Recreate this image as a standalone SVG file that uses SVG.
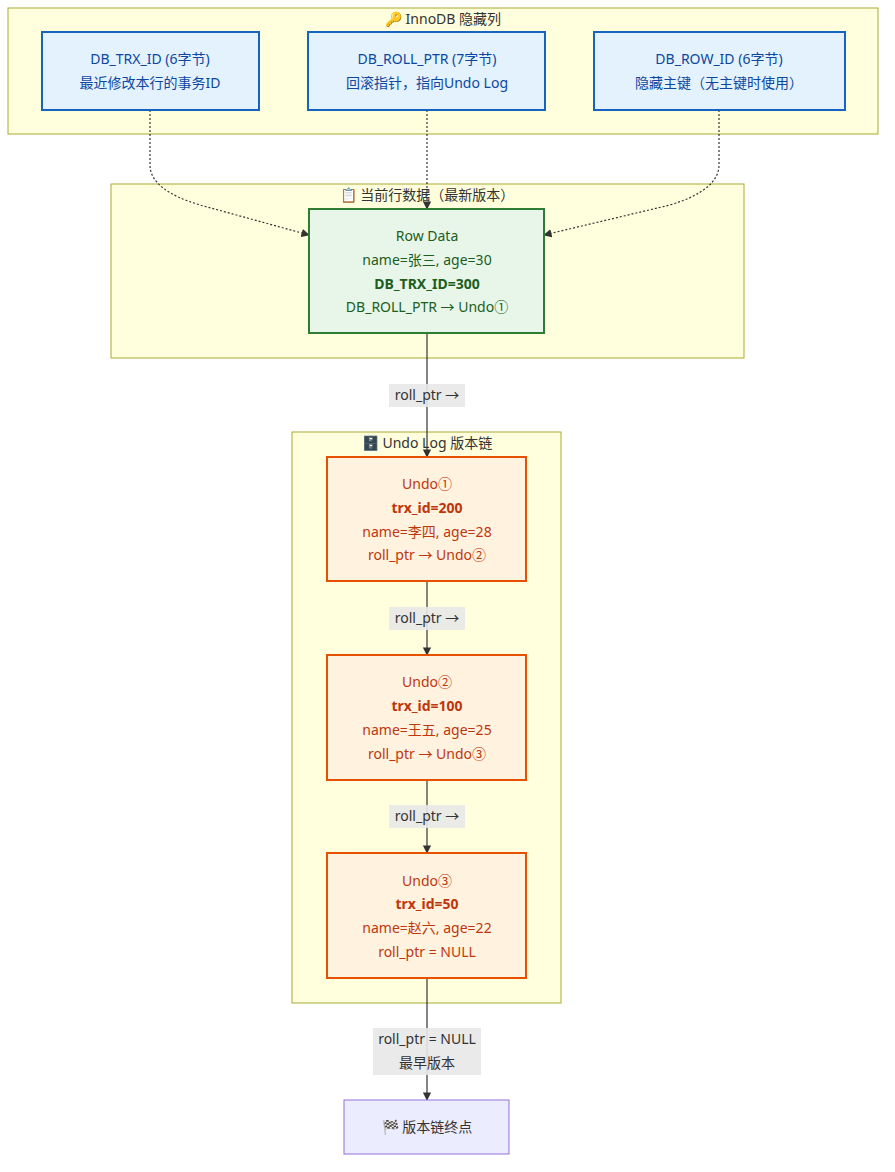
<svg xmlns="http://www.w3.org/2000/svg" width="895" height="1172" viewBox="0 0 895 1172">
<defs>
<marker id="ah" viewBox="0 0 10 10" refX="9" refY="5" markerWidth="7" markerHeight="7" orient="auto-start-reverse"><path d="M0,0L10,5L0,10z" fill="#333"/></marker>
<style>
text{font-family:"Noto Sans","Noto Sans CJK SC",sans-serif;font-size:14px;text-anchor:middle}
.cl{fill:#ffffde;stroke:#aaaa33;stroke-width:1}
.ct{fill:#333}
.blue{fill:#e3f2fd;stroke:#1565c0;stroke-width:2}
.bt{fill:#0d47a1}
.green{fill:#e8f5e9;stroke:#2e7d32;stroke-width:2}
.gt{fill:#1b5e20}
.orange{fill:#fff3e0;stroke:#e65100;stroke-width:2}
.ot{fill:#bf360c}
.b{font-weight:bold}
.e{stroke:#333;stroke-width:1.2;fill:none;marker-end:url(#ah)}
.d{stroke-dasharray:2,2}
.lb{fill:#e8e8e8;opacity:0.9}
.lt{fill:#333}
</style>
</defs>
<g id="clusters">
<rect class="cl" x="8" y="8" width="870" height="126"/>
<text class="ct" x="443" y="24">🔑 InnoDB 隐藏列</text>
<rect class="cl" x="111" y="184" width="633" height="174"/>
<text class="ct" x="427" y="200">📋 当前行数据（最新版本）</text>
<rect class="cl" x="292" y="432" width="269" height="571"/>
<text class="ct" x="427" y="448">🗄️ Undo Log 版本链</text>
</g>
<g id="edges">
<path class="e d" d="M150,110 V165 Q150,190 200,205 L309,235"/>
<path class="e d" d="M427,110 V209"/>
<path class="e d" d="M719,110 V165 Q719,190 670,205 L544,235"/>
<path class="e" d="M427,333 V457"/>
<path class="e" d="M427,581 V655"/>
<path class="e" d="M427,780 V853"/>
<path class="e" d="M427,978 V1100"/>
<rect class="lb" x="389" y="384" width="76" height="23"/>
<text class="lt" x="427" y="400">roll_ptr →</text>
<rect class="lb" x="389" y="607" width="76" height="23"/>
<text class="lt" x="427" y="623">roll_ptr →</text>
<rect class="lb" x="389" y="805" width="76" height="23"/>
<text class="lt" x="427" y="821">roll_ptr →</text>
<rect class="lb" x="373" y="1028" width="108" height="47"/>
<text class="lt" x="427" y="1044">roll_ptr = NULL</text>
<text class="lt" x="427" y="1068">最早版本</text>
</g>
<g id="trx">
<rect class="blue" x="42" y="32" width="217" height="78"/>
<text class="bt" x="150" y="64">DB_TRX_ID (6字节)</text>
<text class="bt" x="150" y="88">最近修改本行的事务ID</text>
</g>
<g id="roll">
<rect class="blue" x="308" y="32" width="237" height="78"/>
<text class="bt" x="427" y="64">DB_ROLL_PTR (7字节)</text>
<text class="bt" x="427" y="88">回滚指针，指向Undo Log</text>
</g>
<g id="rowid">
<rect class="blue" x="594" y="32" width="251" height="78"/>
<text class="bt" x="719" y="64">DB_ROW_ID (6字节)</text>
<text class="bt" x="719" y="88">隐藏主键（无主键时使用）</text>
</g>
<g id="row">
<rect class="green" x="309" y="209" width="235" height="124"/>
<text class="gt" x="427" y="241">Row Data</text>
<text class="gt" x="427" y="265">name=张三, age=30</text>
<text class="gt b" x="427" y="289">DB_TRX_ID=300</text>
<text class="gt" x="427" y="312">DB_ROLL_PTR → Undo①</text>
</g>
<g id="undo1">
<rect class="orange" x="327" y="457" width="199" height="124"/>
<text class="ot" x="427" y="489">Undo①</text>
<text class="ot b" x="427" y="513">trx_id=200</text>
<text class="ot" x="427" y="537">name=李四, age=28</text>
<text class="ot" x="427" y="560">roll_ptr → Undo②</text>
</g>
<g id="undo2">
<rect class="orange" x="327" y="655" width="199" height="125"/>
<text class="ot" x="427" y="687">Undo②</text>
<text class="ot b" x="427" y="711">trx_id=100</text>
<text class="ot" x="427" y="735">name=王五, age=25</text>
<text class="ot" x="427" y="759">roll_ptr → Undo③</text>
</g>
<g id="undo3">
<rect class="orange" x="327" y="853" width="199" height="125"/>
<text class="ot" x="427" y="886">Undo③</text>
<text class="ot b" x="427" y="909">trx_id=50</text>
<text class="ot" x="427" y="933">name=赵六, age=22</text>
<text class="ot" x="427" y="957">roll_ptr = NULL</text>
</g>
<g id="end">
<rect x="344" y="1100" width="165" height="54" fill="#ececff" stroke="#9370db" stroke-width="1"/>
<text class="lt" x="427" y="1132">🏁 版本链终点</text>
</g>
</svg>
